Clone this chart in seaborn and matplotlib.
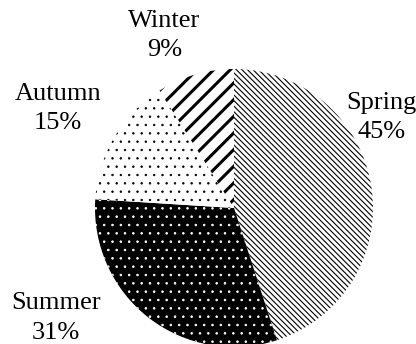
import matplotlib
matplotlib.use('Agg')
import matplotlib.pyplot as plt
import seaborn as sns

# Season shares (percent)
seasons = ['Spring', 'Summer', 'Autumn', 'Winter']
shares = [45, 31, 15, 9]

# Look of each wedge
face_colors = ['white', 'black', 'white', 'white']
hatch_colors = ['black', 'white', 'black', 'black']
hatches = ['\\' * 6, '..', '..', '//']
hatch_widths = [0.8, 0.6, 0.5, 2.2]

# Label positions around the pie (pie radius = 1)
label_x = [1.06, -1.28, -1.265, -0.50]
label_y = [0.65, -0.79, 0.715, 1.24]

sns.set_theme(style='white')
plt.rcParams['font.family'] = ['Liberation Serif', 'DejaVu Serif']
plt.rcParams['text.color'] = 'black'

fig = plt.figure(figsize=(4.16, 3.44), dpi=100)
ax = fig.add_axes([95 / 416, -3 / 344, 278 / 416, 278 / 344])

wedges, _ = ax.pie(shares, startangle=90, counterclock=False, radius=1,
                   colors=face_colors,
                   wedgeprops=dict(linewidth=0))

for w, hc, h, hw in zip(wedges, hatch_colors, hatches, hatch_widths):
    w.set_edgecolor(hc)
    w.set_linewidth(0)
    w.set_hatch(h)
    w.set_hatch_linewidth(hw)

for name, val, x, y in zip(seasons, shares, label_x, label_y):
    ax.text(x, y, f'{name}\n{val}%', ha='center', va='center', color='black',
            fontsize=19, linespacing=1.45, clip_on=False)

ax.set_xlim(-1, 1)
ax.set_ylim(-1, 1)
ax.set_aspect('equal')
ax.axis('off')

fig.savefig('out.png', dpi=100)
